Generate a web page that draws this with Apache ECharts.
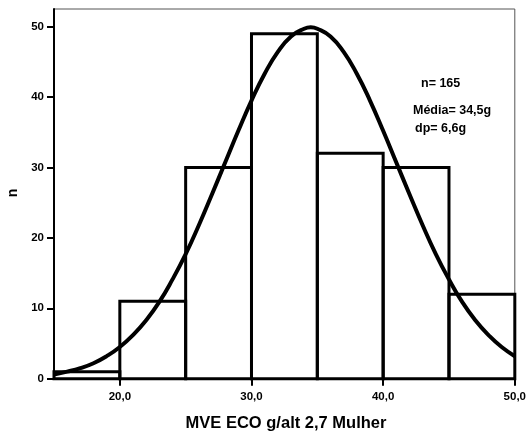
<!DOCTYPE html>
<html>
<head>
<meta charset="utf-8">
<script src="https://cdn.jsdelivr.net/npm/echarts@6/dist/echarts.min.js"></script>
<style>
  html, body { margin: 0; padding: 0; background: #fff; }
  #chart { width: 529px; height: 435px; }
</style>
</head>
<body>
<div id="chart"></div>
<script>
// Histogram bins (g/alt^2,7) and counts
const binStarts = [15, 20, 25, 30, 35, 40, 45];
const binEnds   = [20, 25, 30, 35, 40, 45, 50];
const counts    = [1, 11, 30, 49, 32, 30, 12];

// Normal curve read along x
const curveX = [15, 16, 17, 18, 19, 20, 21, 22, 23, 24, 25, 26, 27, 28, 29, 30, 31, 32, 33, 34, 34.5,
                35, 36, 37, 38, 39, 40, 41, 42, 43, 44, 45, 46, 47, 48, 49, 50];
const curveY = [0.6, 1.0, 1.5, 2.2, 3.2, 4.5, 6.2, 8.3, 10.9, 14.1, 17.7, 21.8, 26.2, 30.7, 35.2, 39.5, 43.3, 46.4, 48.6, 49.7, 49.9,
                49.7, 48.6, 46.4, 43.3, 39.5, 35.2, 30.7, 26.2, 21.8, 17.7, 14.1, 10.9, 8.3, 6.2, 4.5, 3.2];

const xTicks = [20, 30, 40, 50];
const yTicks = [0, 10, 20, 30, 40, 50];

const statsLines = ['n= 165', 'Média= 34,5g', 'dp= 6,6g'];
const xTitle = 'MVE ECO g/alt 2,7 Mulher';
const yTitle = 'n';

const chart = echarts.init(document.getElementById('chart'), null, { renderer: 'canvas' });
const font = 'Arial, "Liberation Sans", sans-serif';

const barData = binStarts.map((s, i) => [s, binEnds[i], counts[i]]);
const curveData = curveX.map((x, i) => [x, curveY[i]]);

chart.setOption({
  animation: false,
  backgroundColor: '#fff',
  grid: {
    left: 54, right: 13, top: 9, bottom: 56.3,
    show: true, borderColor: '#555', borderWidth: 1, backgroundColor: 'transparent'
  },
  xAxis: {
    type: 'value', min: 15, max: 50,
    axisLine: { show: true, onZero: false, lineStyle: { color: '#000', width: 2 } },
    axisTick: { show: true, customValues: xTicks, length: 7, lineStyle: { color: '#000', width: 2 } },
    axisLabel: {
      customValues: xTicks, margin: 12,
      color: '#000', fontWeight: 'bold', fontSize: 11.5, fontFamily: font,
      formatter: v => v.toFixed(1).replace('.', ',')
    },
    splitLine: { show: false }
  },
  yAxis: {
    type: 'value', min: 0, max: 52.5,
    axisLine: { show: true, lineStyle: { color: '#000', width: 2 } },
    axisTick: { show: true, customValues: yTicks, length: 7, lineStyle: { color: '#000', width: 2 } },
    axisLabel: {
      customValues: yTicks, margin: 10,
      color: '#000', fontWeight: 'bold', fontSize: 11.5, fontFamily: font
    },
    splitLine: { show: false }
  },
  series: [
    {
      type: 'custom',
      data: barData,
      encode: { x: [0, 1], y: 2 },
      renderItem: function (params, api) {
        const p0 = api.coord([api.value(0), 0]);
        const p1 = api.coord([api.value(1), api.value(2)]);
        return {
          type: 'rect',
          shape: { x: p0[0], y: p1[1], width: p1[0] - p0[0], height: p0[1] - p1[1] },
          style: { fill: 'rgba(0,0,0,0)', stroke: '#000', lineWidth: 3 }
        };
      },
      z: 2
    },
    {
      type: 'line',
      data: curveData,
      smooth: true,
      showSymbol: false,
      lineStyle: { color: '#000', width: 4 },
      z: 3
    }
  ],
  graphic: [
    { type: 'text', left: 421, top: 77, style: { text: statsLines[0], fill: '#000', font: 'bold 12.5px ' + font } },
    { type: 'text', left: 413, top: 104, style: { text: statsLines[1], fill: '#000', font: 'bold 12.5px ' + font } },
    { type: 'text', left: 415, top: 122, style: { text: statsLines[2], fill: '#000', font: 'bold 12.5px ' + font } },
    { type: 'text', x: 286, y: 423, style: { text: xTitle, fill: '#000', font: 'bold 16.5px ' + font, align: 'center', verticalAlign: 'middle' } },
    { type: 'text', x: 13, y: 193, rotation: Math.PI / 2, style: { text: yTitle, fill: '#000', font: 'bold 14px ' + font, align: 'center', verticalAlign: 'middle' } }
  ]
});
</script>
</body>
</html>
